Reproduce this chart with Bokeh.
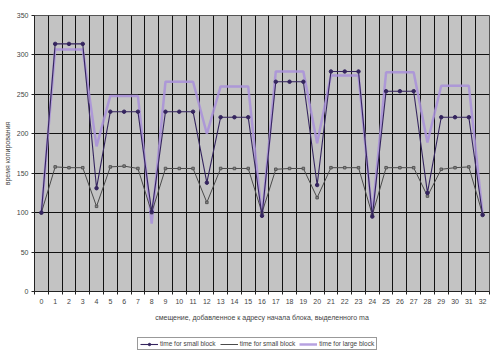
from bokeh.plotting import figure
from bokeh.layouts import column
from bokeh.models import FixedTicker, Legend, LegendItem, Range1d
from bokeh.embed import file_html
from bokeh.resources import INLINE

offsets = list(range(33))
tick_labels = [str(i) for i in offsets]

small_a = [100, 314, 314, 314, 131, 228, 228, 228, 101, 228, 228, 228, 138, 221, 221, 221, 96,
           266, 266, 266, 135, 279, 279, 279, 95, 254, 254, 254, 125, 221, 221, 221, 97]
small_b = [100, 158, 157, 157, 108, 158, 159, 156, 100, 156, 156, 156, 113, 156, 156, 156, 100,
           155, 156, 156, 119, 157, 157, 157, 97, 157, 157, 157, 121, 155, 157, 158, 98]
large = [100, 307, 307, 307, 184, 248, 248, 248, 86, 266, 266, 266, 200, 260, 260, 260, 94,
         279, 279, 279, 188, 274, 274, 274, 96, 278, 278, 278, 189, 261, 261, 261, 98]

legend_labels = ["time for small block", "time for small block", "time for large block"]
y_title = "время копирования"
x_title = "смещение, добавленное к адресу начала блока, выделенного ma"

style_a = dict(line_color="#34245e", line_width=1.1)
style_b = dict(line_color="#4a4a4a", line_width=1)
style_l = dict(line_color="#a990da", line_width=2.5, line_alpha=0.85)
mark_a = dict(marker="circle", size=3.5, fill_color="#34245e", line_color="#34245e")

p = figure(frame_width=455, frame_height=276,
           x_range=Range1d(-0.5, 32.5), y_range=Range1d(0, 350),
           output_backend="svg", toolbar_location=None,
           min_border_left=27, min_border_right=8, min_border_top=15, min_border_bottom=0)

p.background_fill_color = "#c3c3c3"
p.border_fill_color = "white"
p.outline_line_color = "#555555"
p.outline_line_width = 1

# grids
p.xgrid.ticker = FixedTicker(ticks=[i + 0.5 for i in range(32)])
p.xgrid.grid_line_color = "#111111"
p.xgrid.grid_line_width = 1
p.ygrid.ticker = FixedTicker(ticks=[50, 100, 150, 200, 250, 300])
p.ygrid.grid_line_color = "#111111"
p.ygrid.grid_line_width = 1

# axes
p.xaxis.ticker = FixedTicker(ticks=offsets, minor_ticks=[i - 0.5 for i in range(34)])
p.xaxis.major_label_overrides = {i: t for i, t in zip(offsets, tick_labels)}
p.xaxis.major_tick_out = 0
p.xaxis.major_tick_in = 0
p.xaxis.minor_tick_out = 3
p.xaxis.minor_tick_in = 0
p.yaxis.ticker = FixedTicker(ticks=[0, 50, 100, 150, 200, 250, 300, 350])
p.yaxis.minor_tick_line_color = None
p.yaxis.major_tick_out = 3
p.yaxis.major_tick_in = 0
for ax in (p.xaxis[0], p.yaxis[0]):
    ax.axis_line_color = "#222222"
    ax.major_tick_line_color = "#222222"
    ax.minor_tick_line_color = "#222222"
    ax.major_label_text_font = "Liberation Sans"
    ax.major_label_text_font_size = "7px"
    ax.major_label_text_color = "#444444"
    ax.axis_label_text_font = "Liberation Sans"
    ax.axis_label_text_font_size = "7px"
    ax.axis_label_text_font_style = "normal"
    ax.axis_label_text_color = "#444444"
p.xaxis.major_label_standoff = 4
p.yaxis.major_label_standoff = 3
p.xaxis.axis_label = x_title
p.yaxis.axis_label = y_title
p.xaxis.axis_label_standoff = 7
p.yaxis.axis_label_standoff = 3

# series
p.line(offsets, large, **style_l)
p.line(offsets, small_b, **style_b)
p.scatter(offsets, small_b, marker="square", size=2.5, fill_color="#888888", line_color="#555555")
p.line(offsets, small_a, **style_a)
p.scatter(offsets, small_a, **mark_a)

# legend strip (separate small figure below the chart)
nan = [float("nan")]
lf = figure(width=490, height=30, x_range=Range1d(0, 1), y_range=Range1d(0, 1),
            output_backend="svg", toolbar_location=None, min_border=0)
lf.axis.visible = False
lf.grid.visible = False
lf.outline_line_color = None
lf.background_fill_color = "white"
la = lf.line(nan, nan, **style_a)
lam = lf.scatter(nan, nan, **mark_a)
lb = lf.line(nan, nan, **style_b)
ll = lf.line(nan, nan, **style_l)

legend = Legend(items=[LegendItem(label=legend_labels[0], renderers=[la, lam]),
                       LegendItem(label=legend_labels[1], renderers=[lb]),
                       LegendItem(label=legend_labels[2], renderers=[ll])],
                orientation="horizontal", location=(103, 3))
legend.label_text_font = "Liberation Sans"
legend.label_text_font_size = "6.5px"
legend.label_text_color = "#444444"
legend.glyph_width = 18
legend.glyph_height = 6
legend.label_height = 6
legend.label_standoff = 2
legend.spacing = 4
legend.padding = 2
legend.margin = 0
legend.border_line_color = "#333333"
legend.background_fill_color = "white"
lf.add_layout(legend, "center")

layout = column(p, lf, spacing=0)
open("out.html", "w").write(file_html(layout, INLINE))
